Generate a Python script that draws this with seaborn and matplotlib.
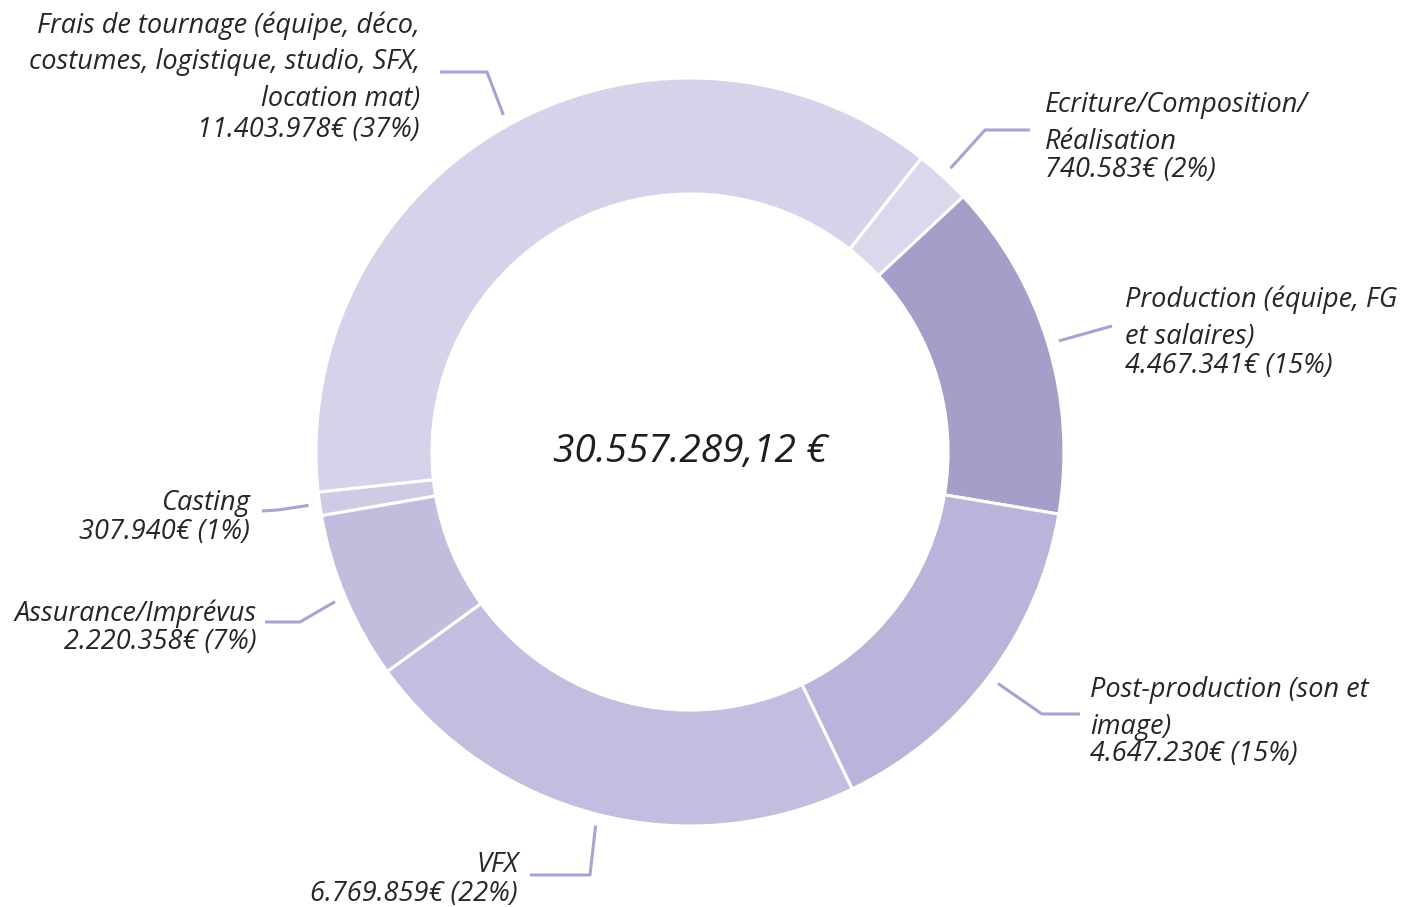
import matplotlib
matplotlib.use("Agg")
import matplotlib.pyplot as plt
import numpy as np
import seaborn as sns

# données du budget (ordre horaire à partir de "Ecriture")
categories = [
    "Ecriture/Composition/\nRéalisation",
    "Production (équipe, FG\net salaires)",
    "Post-production (son et\nimage)",
    "VFX",
    "Assurance/Imprévus",
    "Casting",
    "Frais de tournage (équipe, déco,\ncostumes, logistique, studio, SFX,\nlocation mat)",
]
montants = [740583, 4467341, 4647230, 6769859, 2220358, 307940, 11403978]
montants_txt = ["740.583€", "4.467.341€", "4.647.230€", "6.769.859€",
                "2.220.358€", "307.940€", "11.403.978€"]
pourcentages = ["2%", "15%", "15%", "22%", "7%", "1%", "37%"]
total_txt = "30.557.289,12 €"

couleurs = ["#dcd8ec", "#a59ec9", "#b9b4da", "#c3bedf", "#c4bcdc", "#d0cbe5", "#d5d2e9"]
couleur_ligne = "#a8a3d1"

sns.set_theme(style="white")
plt.rcParams["font.family"] = ["Open Sans", "DejaVu Sans"]

W, H = 1401, 907
fig = plt.figure(figsize=(W / 100, H / 100), dpi=100)
ax = fig.add_axes([0, 0, 1, 1])

cx, cy, R = 690, H - 452, 374
wedges, _ = ax.pie(montants, colors=couleurs, startangle=51.8, counterclock=False,
                   center=(cx, cy), radius=R, frame=True,
                   wedgeprops=dict(width=R * 0.31, edgecolor="white", linewidth=2.2))
ax.set_xlim(0, W)
ax.set_ylim(0, H)
ax.set_aspect("equal")
ax.axis("off")

ax.text(cx, cy, total_txt, ha="center", va="center", fontsize=28,
        style="italic", color="#1e1e1e")

# mise en page des étiquettes (coordonnées pixel, y vers le bas)
# (coude x, coude y, fin x, fin y, texte x, haut nom, haut valeur, alignement)
layout = [
    (985, 130, 1030, 130, 1045, 91, 156, "left"),
    (1112, 326, 1112, 326, 1125, 286, 352, "left"),
    (1042, 714, 1080, 714, 1090, 676, 740, "left"),
    (590, 875, 530, 875, 518, 851, 880, "right"),
    (300, 622, 265, 622, 257, 599, 628, "right"),
    (278, 510, 262, 511, 250, 489, 518, "right"),
    (487, 72, 440, 72, 420, 11, 116, "right"),
]

for w, nom, val, pct, lay in zip(wedges, categories, montants_txt, pourcentages, layout):
    ex, ey, fx, fy, tx, ny, vy, ha = lay
    theta = np.deg2rad((w.theta1 + w.theta2) / 2)
    sx = cx + R * 1.03 * np.cos(theta)
    sy = cy + R * 1.03 * np.sin(theta)
    ax.plot([sx, ex, fx], [sy, H - ey, H - fy], color=couleur_ligne,
            linewidth=2.2, solid_capstyle="butt")
    ax.text(tx, H - ny, nom, ha=ha, va="top", fontsize=19.5, style="italic",
            color="#262626", linespacing=1.42, multialignment=ha)
    ax.text(tx, H - vy, f"{val} ({pct})", ha=ha, va="top", fontsize=19.5,
            style="italic", color="#262626")

fig.savefig("out.png", dpi=100, facecolor="white")
